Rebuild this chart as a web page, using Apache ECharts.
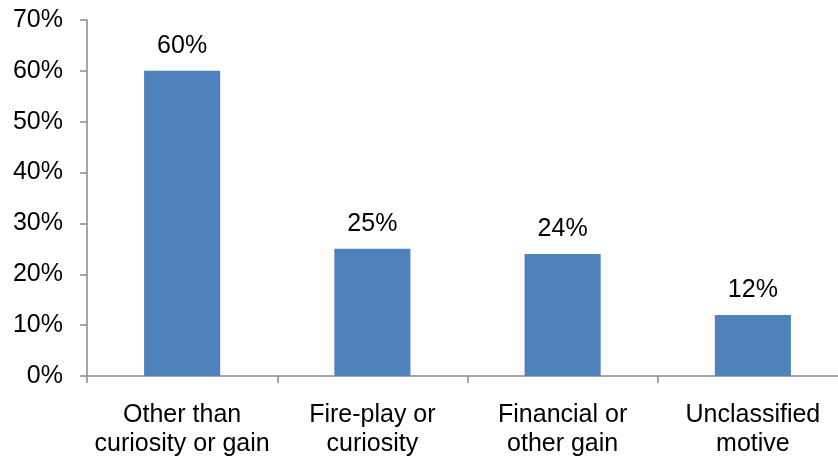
<!DOCTYPE html>
<html>
<head>
<meta charset="utf-8">
<script src="https://cdn.jsdelivr.net/npm/echarts@6/dist/echarts.min.js"></script>
<style>html,body{margin:0;padding:0;background:#fff;overflow:hidden;width:838px;height:461px;}#c{width:848px;height:461px;}</style>
</head>
<body>
<div id="c"></div>
<script>
var categories = ['Other than\ncuriosity or gain', 'Fire-play or\ncuriosity', 'Financial or\nother gain', 'Unclassified\nmotive'];
var values = [60, 25, 24, 12];
var yTicks = [0, 10, 20, 30, 40, 50, 60, 70];

var chart = echarts.init(document.getElementById('c'), null, {renderer: 'canvas'});
var font = 'Liberation Sans, Arial, sans-serif';
chart.setOption({
  animation: false,
  grid: {left: 87, right: 0, top: 20, bottom: 85, containLabel: false},
  xAxis: {
    type: 'category',
    data: categories,
    axisLine: {lineStyle: {color: '#898989', width: 1.5}},
    axisTick: {show: true, length: 7, lineStyle: {color: '#898989', width: 1.5}},
    axisLabel: {color: '#000', fontFamily: font, fontSize: 25, lineHeight: 29, margin: 25, interval: 0}
  },
  yAxis: {
    type: 'value',
    min: yTicks[0],
    max: yTicks[yTicks.length - 1],
    interval: 10,
    splitLine: {show: false},
    axisLine: {show: true, lineStyle: {color: '#898989', width: 1.5}},
    axisTick: {show: true, length: 7, lineStyle: {color: '#898989', width: 1.5}},
    axisLabel: {color: '#000', fontFamily: font, fontSize: 25, margin: 24, formatter: '{value}%'}
  },
  series: [{
    type: 'bar',
    data: values,
    barWidth: '40%',
    itemStyle: {color: '#4F81BD'},
    label: {show: true, position: 'top', distance: 12, color: '#000', fontFamily: font, fontSize: 25, formatter: '{c}%'}
  }]
});
</script>
</body>
</html>
